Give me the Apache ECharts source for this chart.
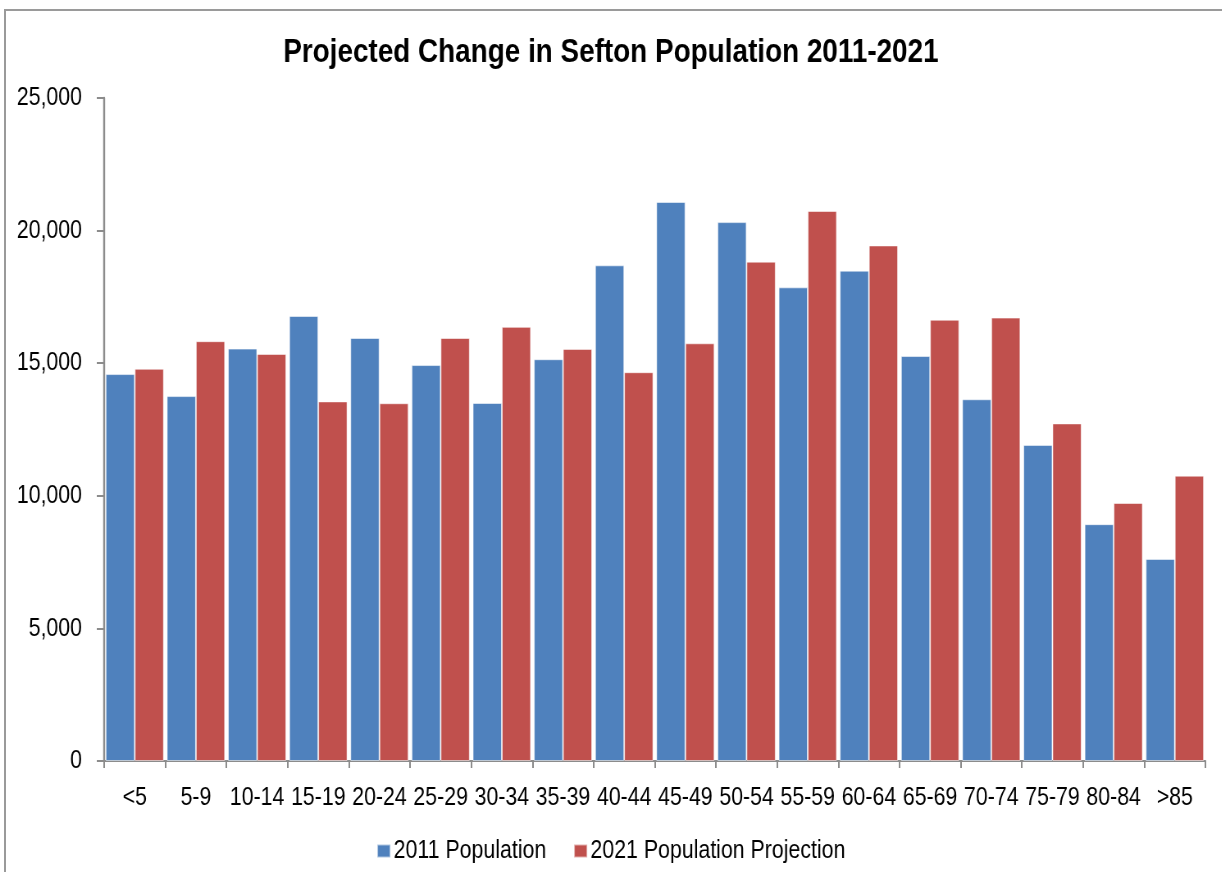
<!DOCTYPE html>
<html>
<head>
    <meta charset="utf-8">
    <title>Projected Change in Sefton Population 2011-2021</title>
    <script src="https://cdn.jsdelivr.net/npm/echarts@6/dist/echarts.min.js"></script>
    <style>
        html, body { margin: 0; padding: 0; background: #fff; overflow: hidden; }
        #frame { position: absolute; left: 4px; top: 9px; width: 1240px; height: 900px; border: 2px solid #9a9a9a; box-sizing: border-box; }
        /* no narrow font installed, so the chart is drawn wider and squeezed back */
        #main { position: absolute; left: 0; top: 0; width: 1490px; height: 872px; transform: scaleX(0.82); transform-origin: 0 0; }
    </style>
</head>
<body>
<div id="frame"></div>
<div id="main"></div>
<script>
    // age bands
    var ageGroups = ['<5', '5-9', '10-14', '15-19', '20-24', '25-29', '30-34', '35-39', '40-44',
        '45-49', '50-54', '55-59', '60-64', '65-69', '70-74', '75-79', '80-84', '>85'];

    // 2011 population
    var pop2011 = [14590, 13760, 15550, 16780, 15950, 14930, 13500, 15150, 18690,
        21080, 20320, 17860, 18490, 15270, 13640, 11920, 8930, 7620];

    // 2021 projection
    var pop2021 = [14790, 15830, 15350, 13560, 13490, 15950, 16370, 15540, 14660,
        15750, 18830, 20740, 19440, 16640, 16720, 12730, 9730, 10760];

    var yTicks = { min: 0, max: 25000, interval: 5000 };

    var font = "'Liberation Sans', Arial, sans-serif";

    var myChart = echarts.init(document.getElementById('main'));

    var option = {
        animation: false,
        textStyle: { fontFamily: font },
        title: {
            text: 'Projected Change in Sefton Population 2011-2021',
            left: 'center',
            top: 31,
            textStyle: { fontFamily: font, fontSize: 34, fontWeight: 'bold', color: '#000' }
        },
        legend: {
            top: 833,
            left: 'center',
            itemWidth: 16,
            itemHeight: 13,
            itemGap: 33,
            icon: 'rect',
            textStyle: { fontFamily: font, fontSize: 26, color: '#000', padding: [0, 0, 0, -1] },
            data: ['2011 Population', '2021 Population Projection']
        },
        grid: { left: 127, right: 20, top: 98, bottom: 111 },
        xAxis: {
            type: 'category',
            data: ageGroups,
            axisLine: { lineStyle: { color: '#8c8c8c', width: 2 } },
            axisTick: { show: true, length: 7, lineStyle: { color: '#8c8c8c', width: 2 } },
            axisLabel: { interval: 0, margin: 24, fontSize: 26, color: '#000', fontFamily: font }
        },
        yAxis: {
            type: 'value',
            min: yTicks.min,
            max: yTicks.max,
            interval: yTicks.interval,
            axisLine: { show: true, lineStyle: { color: '#8c8c8c', width: 2.4 } },
            axisTick: { show: true, length: 9, lineStyle: { color: '#8c8c8c', width: 2 } },
            splitLine: { show: false },
            axisLabel: {
                margin: 27, fontSize: 26, color: '#000', fontFamily: font,
                formatter: function (v) { return v.toLocaleString('en-US'); }
            }
        },
        series: [
            {
                name: '2011 Population',
                type: 'bar',
                data: pop2011,
                barGap: '0%',
                barCategoryGap: '5%',
                itemStyle: { color: '#4F81BD', borderColor: 'rgba(255,255,255,0.55)', borderWidth: 1 }
            },
            {
                name: '2021 Population Projection',
                type: 'bar',
                data: pop2021,
                barGap: '0%',
                barCategoryGap: '5%',
                itemStyle: { color: '#C0504D', borderColor: 'rgba(255,255,255,0.55)', borderWidth: 1 }
            }
        ]
    };

    myChart.setOption(option);
</script>
</body>
</html>
